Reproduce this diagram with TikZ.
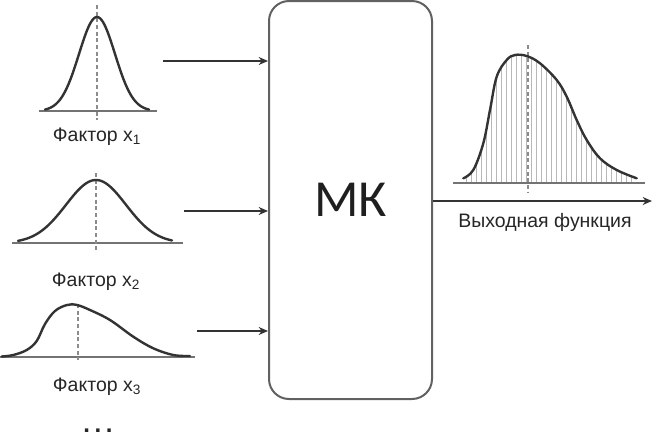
\documentclass[tikz,border=0pt]{standalone}
\usepackage{fontspec}
\setmainfont{Liberation Sans}
\newfontfamily\mkfont{Carlito}
\usetikzlibrary{arrows.meta}
\begin{document}
\begin{tikzpicture}[x=0.75pt,y=-0.75pt,
  curve/.style={draw=black!80, line width=1.8pt, line join=round, line cap=round},
  base/.style={draw=black!55, line width=1.1pt},
  mid/.style={draw=black!45, line width=0.9pt, dash pattern=on 3pt off 2pt},
  hatch/.style={draw=black!28, line width=0.7pt},
  arr/.style={draw=black!80, line width=1pt, -{Stealth[length=7pt,width=6pt]}},
  lbl/.style={font=\fontsize{14.6}{16}\selectfont, text=black!85, inner sep=0pt},
  box/.style={draw=black!62, line width=1.5pt, rounded corners=15pt, minimum width=122.25pt, minimum height=298.5pt, inner sep=0pt}]
\useasboundingbox (0,0) rectangle (665,440);

% central box
\node[box, font=\mkfont\fontsize{39}{40}\selectfont, text=black!88] (mk) at (350.5,200) {МК};

% factor 1
\draw[base] (39,111) -- (157,111);
\draw[mid] (97,5) -- (97,120);
\draw[curve] plot[domain=45:149, samples=80] (\x, {111-94*exp(-((\x-97)/18)^2/2)});
\node[lbl] (l1) at (97,137) {Фактор x\textsubscript{1}};

% factor 2
\draw[base] (12,243) -- (183,243);
\draw[mid] (96,173) -- (96,250);
\draw[curve] plot[domain=18:172, samples=80] (\x, {243-63*exp(-((\x-96)/30)^2/2)});
\node[lbl] (l2) at (96,282) {Фактор x\textsubscript{2}};

% factor 3
\draw[base] (0,357) -- (195,357);
\draw[mid] (78,304) -- (78,360);
\draw[curve] plot[smooth, tension=0.6] coordinates {(1.7,356.5) (13.3,355) (26.7,350) (36.7,341) (45,324) (55,311) (67,305) (77,305) (90,310) (110,320) (133.3,336.7) (153.3,348.3) (173.3,355) (190,356)};
\node[lbl] (l3) at (97,387) {Фактор x\textsubscript{3}};

\node[font=\fontsize{18}{18}\selectfont\bfseries, text=black!85, inner sep=0pt] (dots) at (98,431) {.\hspace{3.5pt}.\hspace{3.5pt}.};

% input arrows
\coordinate (a1) at (163,61);
\coordinate (a2) at (184,211);
\coordinate (a3) at (197,331);
\draw[arr] (a1) -- (a1 -| mk.west);
\draw[arr] (a2) -- (a2 -| mk.west);
\draw[arr] (a3) -- (a3 -| mk.west);

% output
\coordinate (o) at (652,201);
\draw[arr] (o -| mk.east) -- (o);
\begin{scope}
\clip plot[smooth, tension=0.6] coordinates {(463.3,178.3) (473.3,170) (483.3,143.3) (490,110) (496.7,76.7) (506.7,60) (515,55) (526.7,56) (540,63.3) (556.7,80) (566.7,96.7) (576.7,120) (586.7,140) (600,158.3) (616.7,170) (636.7,178.3)} -- (636.7,183) -- (463.3,183) -- cycle;
\foreach \hx in {466,471,...,641} \draw[hatch] (\hx,183) -- (\hx,40);
\end{scope}
\draw[base] (453,183) -- (645,183);
\draw[mid] (528,45) -- (528,193);
\draw[curve] plot[smooth, tension=0.6] coordinates {(463.3,178.3) (473.3,170) (483.3,143.3) (490,110) (496.7,76.7) (506.7,60) (515,55) (526.7,56) (540,63.3) (556.7,80) (566.7,96.7) (576.7,120) (586.7,140) (600,158.3) (616.7,170) (636.7,178.3)};
\node[lbl] (lo) at (545,222) {Выходная функция};
\end{tikzpicture}
\end{document}
